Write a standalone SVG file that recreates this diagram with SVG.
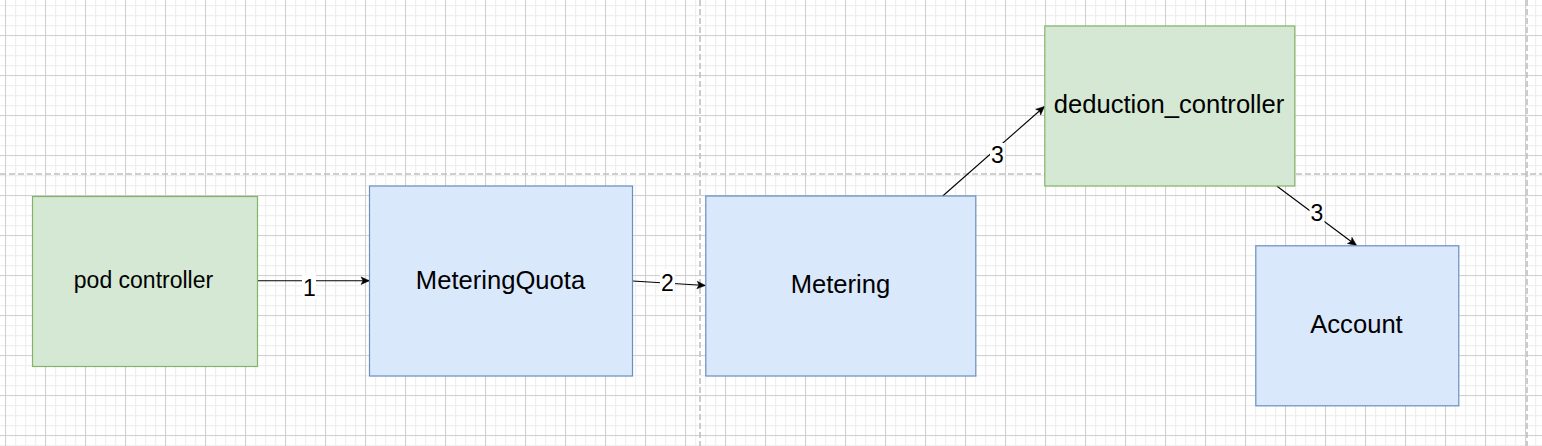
<svg xmlns="http://www.w3.org/2000/svg" width="1542" height="446" viewBox="0 0 1542 446">
  <style>
    .blue { fill: #dae8fc; stroke: #6c8ebf; stroke-width: 1.2; }
    .green { fill: #d5e8d4; stroke: #82b366; stroke-width: 1.2; }
    .lbl { font-family: "Liberation Sans", Arial, Helvetica, sans-serif; fill: #000; text-anchor: middle; }
    .big { font-size: 25.6px; }
    .small { font-size: 23px; }
    .edge { stroke: #000; stroke-width: 1.1; fill: none; marker-end: url(#arrow); }
    .bg { fill: #fff; }
    .brk { stroke: #c0c0c0; stroke-width: 1.6; stroke-dasharray: 6 3; fill: none; }
  </style>
  <defs>
    <pattern id="minor" width="10" height="10" x="5" y="5" patternUnits="userSpaceOnUse">
      <path d="M0 0.5H10M0.5 0V10" stroke="#efefef" stroke-width="1.5" fill="none"/>
    </pattern>
    <pattern id="major" width="40" height="40" x="5" y="-5" patternUnits="userSpaceOnUse">
      <path d="M0 0.5H40M0.5 0V40" stroke="#d0d0d0" stroke-width="1" fill="none"/>
    </pattern>
    <marker id="arrow" markerUnits="userSpaceOnUse" markerWidth="12" markerHeight="10" viewBox="-9 -5 10 10" refX="0" refY="0" orient="auto">
      <path d="M0 0L-8.5 -3.8L-6.5 0L-8.5 3.8Z" fill="#000" stroke="#000" stroke-width="0.5"/>
    </marker>
  </defs>

  <g id="background">
    <rect width="1542" height="446" fill="#fff"/>
    <rect width="1542" height="446" fill="url(#minor)"/>
    <rect width="1542" height="446" fill="url(#major)"/>
    <path class="brk" d="M0 174H1542M700 0V446M1527 0V446"/>
  </g>

  <g id="connectors">
    <line class="edge" x1="257.5" y1="280.7" x2="369.5" y2="280.7"/>
    <rect class="bg" x="302" y="273" width="14" height="26"/>
    <text class="lbl small" x="309.5" y="296">1</text>

    <line class="edge" x1="632.5" y1="281" x2="705.5" y2="285.5"/>
    <rect class="bg" x="660" y="269" width="15" height="25"/>
    <text class="lbl small" x="667.5" y="291">2</text>

    <line class="edge" x1="942.7" y1="196" x2="1044.5" y2="106.5"/>
    <rect class="bg" x="990" y="143" width="15" height="24"/>
    <text class="lbl small" x="997.5" y="163">3</text>

    <line class="edge" x1="1276.7" y1="186" x2="1356.5" y2="245.5"/>
    <rect class="bg" x="1309.5" y="201" width="15" height="24"/>
    <text class="lbl small" x="1317" y="221">3</text>
  </g>

  <g id="pod-controller">
    <rect class="green" x="32.5" y="196.5" width="225" height="170"/>
    <text class="lbl small" x="143.5" y="287.5">pod controller</text>
  </g>

  <g id="metering-quota">
    <rect class="blue" x="369.5" y="186" width="263" height="190"/>
    <text class="lbl big" x="500.5" y="289.3">MeteringQuota</text>
  </g>

  <g id="metering">
    <rect class="blue" x="705.8" y="196" width="270" height="180"/>
    <text class="lbl big" x="840.5" y="293.3">Metering</text>
  </g>

  <g id="deduction-controller">
    <rect class="green" x="1044.8" y="26" width="250" height="160"/>
    <text class="lbl big" x="1169" y="112.5">deduction_controller</text>
  </g>

  <g id="account">
    <rect class="blue" x="1255.8" y="245.8" width="203" height="160"/>
    <text class="lbl big" x="1356.5" y="333.3">Account</text>
  </g>
</svg>
